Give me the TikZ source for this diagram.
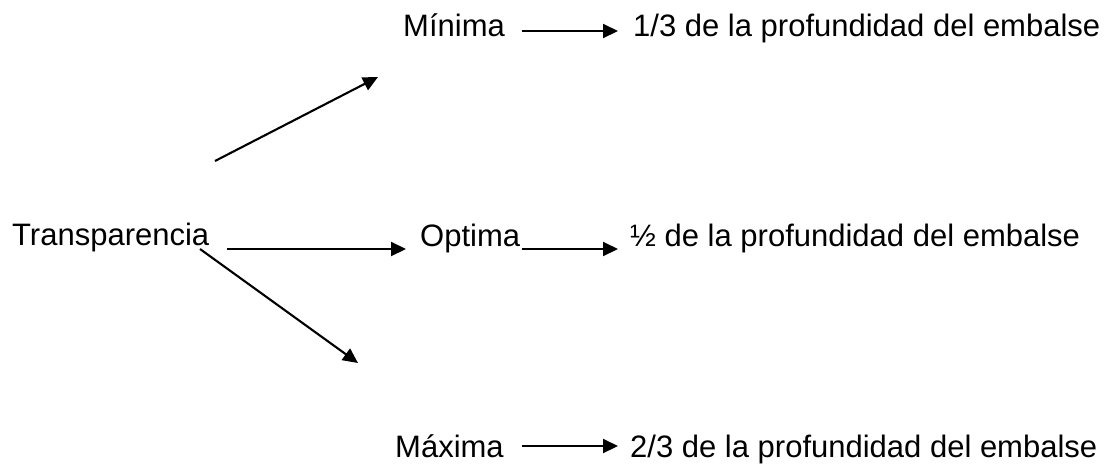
\documentclass[tikz,border=0pt]{standalone}
\usepackage{fontspec}
\setmainfont{Liberation Sans}
\usetikzlibrary{arrows.meta}
\begin{document}
\begin{tikzpicture}[x=1pt,y=-1pt,
  lbl/.style={anchor=base west,inner sep=0pt,font=\fontsize{31}{37}\selectfont},
  arr/.style={line width=2.1pt,-{Triangle[length=15pt,width=14pt]}}]
\useasboundingbox (0,0) rectangle (1117,467);
% texts
\node[lbl] (tr) at (12,245) {Transparencia};
\node[lbl] (mn) at (403,36) {Mínima};
\node[lbl] (op) at (420,246) {Optima};
\node[lbl] (mx) at (395,457) {Máxima};
\node[lbl] (r1) at (633,36) {1/3 de la profundidad del embalse};
\node[lbl] (r2) at (630,246) {½ de la profundidad del embalse};
\node[lbl] (r3) at (630,457) {2/3 de la profundidad del embalse};
% free ends
\coordinate (up0) at (215,161);
\coordinate (up1) at (378,77);
\coordinate (dn0) at (200,249);
\coordinate (dn1) at (358,363);
\coordinate (a1s) at (522,31);  \coordinate (a1e) at (618,31);
\coordinate (a2s) at (227,249); \coordinate (a2e) at (406,249);
\coordinate (a3s) at (522,249); \coordinate (a3e) at (618,249);
\coordinate (a4s) at (522,446); \coordinate (a4e) at (618,446);
% connectors
\draw[arr] (up0) -- (up1);
\draw[arr] (dn0) -- (dn1);
\draw[arr] (a1s) -- (a1e);
\draw[arr] (a2s) -- (a2e);
\draw[arr] (a3s) -- (a3e);
\draw[arr] (a4s) -- (a4e);
\end{tikzpicture}
\end{document}
